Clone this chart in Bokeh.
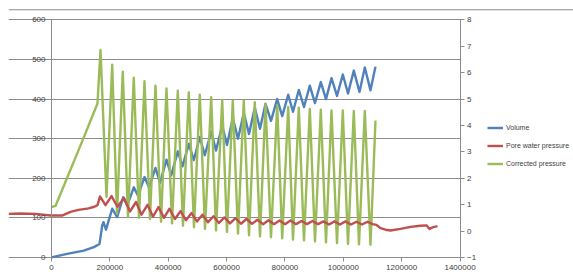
from bokeh.plotting import figure
from bokeh.models import (Range1d, LinearAxis, FixedTicker, BasicTickFormatter,
                          Legend, LegendItem, Span)
from bokeh.embed import file_html
from bokeh.resources import INLINE

# ---- data ----
vol_time = [0, 53800, 110700, 145000, 164500, 173700, 178200, 186800, 208000, 225200,
            245700, 259400, 282000, 296400, 318700, 334100, 356400, 371900, 394100, 410200,
            432800, 448900, 470500, 487700, 508200, 525300, 547300, 563800, 585000, 601400,
            621300, 639100, 659000, 676800, 696700, 714500, 733400, 752200, 773500, 790600,
            811200, 827600, 847500, 865300, 885200, 903000, 922900, 940700, 959600, 978400,
            998300, 1016100, 1036000, 1055500, 1073700, 1093200, 1110300]
volume = [0, 9, 17, 26, 34, 80, 89, 70, 123, 102,
          152, 131, 177, 156, 203, 177, 226, 188, 247, 207,
          268, 230, 287, 246, 304, 258, 318, 270, 333, 284,
          352, 300, 365, 312, 378, 325, 388, 345, 400, 357,
          411, 368, 423, 380, 434, 390, 443, 400, 453, 408,
          462, 414, 472, 418, 480, 422, 482]

cp_time = [0, 13700, 106200, 157600, 167900, 188500, 208000, 224500, 244300, 262200,
           282000, 299900, 318700, 337600, 356400, 375300, 394100, 413000, 432800, 450600,
           470500, 488300, 508200, 526000, 547300, 563800, 585000, 601400, 621300, 639100,
           659000, 676800, 696700, 714500, 733400, 752200, 773500, 790600, 811200, 827600,
           847500, 865300, 885200, 903000, 922900, 940700, 959600, 978400, 998300, 1016100,
           1036000, 1053800, 1073700, 1093200, 1110300]
corrected_pressure = [127, 130, 295, 389, 524, 153, 487, 110, 469, 102,
                      454, 100, 445, 97, 434, 90, 427, 86, 421, 80,
                      417, 76, 411, 72, 405, 68, 398, 64, 396, 60,
                      396, 56, 392, 53, 388, 51, 384, 48, 380, 45,
                      378, 43, 375, 40, 373, 38, 371, 36, 371, 34,
                      370, 33, 370, 32, 346]

pwp_time = [-147000, -106000, -55000, -3000, 38000, 65000, 92500, 127000, 147000, 157600,
            166200, 185100, 205600, 226200, 248500, 269000, 289600, 308400, 329000, 347800,
            366700, 385500, 404400, 423200, 442100, 460900, 479800, 498600, 517500, 536300,
            555200, 574000, 592900, 611700, 630600, 649400, 668300, 687100, 706000, 724800,
            743700, 762500, 781400, 800200, 819100, 837900, 856800, 875600, 894400, 913300,
            932100, 951000, 969800, 988700, 1007500, 1026400, 1045200, 1064100, 1082900, 1100100,
            1113800, 1127500, 1144600, 1161800, 1196000, 1230300, 1264600, 1285100, 1295400, 1305700,
            1322800]
pore_water_pressure = [0.65, 0.665, 0.65, 0.59, 0.59, 0.725, 0.80, 0.86, 0.92, 0.98,
                       1.31, 0.98, 1.325, 0.92, 1.25, 0.74, 1.10, 0.62, 0.995, 0.545,
                       0.905, 0.50, 0.845, 0.455, 0.755, 0.41, 0.68, 0.365, 0.62, 0.335,
                       0.56, 0.305, 0.515, 0.29, 0.485, 0.275, 0.455, 0.275, 0.425, 0.26,
                       0.41, 0.26, 0.395, 0.26, 0.395, 0.26, 0.38, 0.26, 0.38, 0.26,
                       0.365, 0.245, 0.365, 0.245, 0.365, 0.245, 0.35, 0.245, 0.35, 0.26,
                       0.23, 0.11, 0.05, 0.02, 0.08, 0.155, 0.20, 0.215, 0.08, 0.14,
                       0.185]

x_ticks = [0, 200000, 400000, 600000, 800000, 1000000, 1200000, 1400000]
left_ticks = [0, 100, 200, 300, 400, 500, 600]
right_ticks = [-1, 0, 1, 2, 3, 4, 5, 6, 7, 8]

labels = ["Volume", "Pore water pressure", "Corrected pressure"]
colors = ["#4F81BD", "#C0504D", "#9BBB59"]

GRAY = "#8c8c8c"
TXT = "#404040"
FONT = "Liberation Sans"

p = figure(frame_width=565, frame_height=261, output_backend="svg", toolbar_location=None,
           x_range=Range1d(-147361, 1788894), y_range=Range1d(-10.36, 649.06),
           min_border_left=8, min_border_right=0, min_border_top=0, min_border_bottom=0)
p.outline_line_color = None
p.background_fill_color = "white"
p.border_fill_color = "white"
p.extra_y_ranges = {"right": Range1d(-1.1554, 8.7359)}

# left axis (drawn at x = 0)
ya = p.yaxis[0]
ya.fixed_location = 0
ya.bounds = (0, 600)
ya.ticker = FixedTicker(ticks=left_ticks)
ya.axis_line_color = GRAY
ya.major_tick_line_color = GRAY
ya.major_tick_out = 4
ya.major_tick_in = 0
ya.minor_tick_line_color = None
ya.major_label_standoff = 2
ya.major_label_text_font = FONT
ya.major_label_text_font_size = "8px"
ya.major_label_text_color = TXT

# bottom axis (own panel; ticks reach up to the zero line)
xa = p.xaxis[0]
xa.ticker = FixedTicker(ticks=x_ticks)
xa.formatter = BasicTickFormatter(use_scientific=False)
xa.axis_line_color = None
xa.major_tick_line_color = GRAY
xa.major_tick_out = 0
xa.major_tick_in = 4
xa.minor_tick_line_color = None
xa.major_label_standoff = 3
xa.major_label_text_font = FONT
xa.major_label_text_font_size = "8px"
xa.major_label_text_color = TXT

# right axis (drawn at x = 1400000)
ra = LinearAxis(y_range_name="right", fixed_location=1400000, bounds=(-1, 8),
                ticker=FixedTicker(ticks=right_ticks))
ra.axis_line_color = GRAY
ra.major_tick_line_color = GRAY
ra.major_tick_out = 4
ra.major_tick_in = 0
ra.minor_tick_line_color = None
ra.major_label_standoff = 3
ra.major_label_text_font = FONT
ra.major_label_text_font_size = "8px"
ra.major_label_text_color = TXT
p.add_layout(ra, "right")

p.xgrid.visible = False
p.ygrid.grid_line_color = GRAY
p.ygrid.grid_line_width = 1
p.ygrid.cross_bounds = (-147361, 1400000)

p.add_layout(Span(location=625.6, dimension="width", line_color=GRAY, line_width=1))

r_vol = p.line(vol_time, volume, line_color=colors[0], line_width=2.4, line_join="round")
r_cp = p.line(cp_time, corrected_pressure, line_color=colors[2], line_width=2.4, line_join="round")
r_pwp = p.line(pwp_time, pore_water_pressure, y_range_name="right",
               line_color=colors[1], line_width=2.4, line_join="round")

legend = Legend(items=[LegendItem(label=labels[0], renderers=[r_vol]),
                       LegendItem(label=labels[1], renderers=[r_pwp]),
                       LegendItem(label=labels[2], renderers=[r_cp])],
                location=(479, 89), orientation="vertical",
                padding=0, margin=0, spacing=1, glyph_width=16, glyph_height=17,
                label_height=17, label_standoff=3,
                label_text_font=FONT, label_text_font_size="7px", label_text_color=TXT,
                background_fill_alpha=0, border_line_color=None)
p.add_layout(legend)

open("out.html", "w").write(file_html(p, INLINE))
